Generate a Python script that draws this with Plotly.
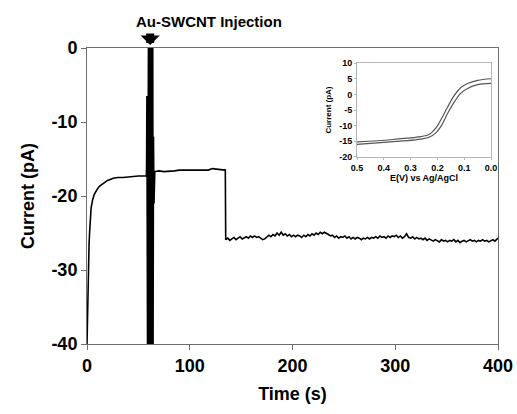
import plotly.graph_objects as go

# main trace: current vs time
time_rise = [0, 0.5, 1, 1.5, 2, 2.5, 3.2, 4, 5.5, 7, 9.4, 12, 16, 20, 25.6, 30, 35, 40, 45, 50, 56.5, 57.8]
current_rise = [-40, -35, -32, -30, -26.5, -25, -22.8, -21.6, -20.5, -19.8, -19.2, -18.7, -18.3, -17.9, -17.6,
                -17.5, -17.5, -17.4, -17.4, -17.3, -17.3, -17.3]

# injection artefact: signal saturating between the rails
time_inject = [58.0, 58.3, 58.9, 59.2, 59.5, 59.8, 60.1, 60.4, 60.7, 61.0, 61.3, 61.6, 61.9,
               62.2, 62.5, 62.8, 63.1, 63.4, 63.7, 64.0, 64.3, 64.7, 65.2]
current_inject = [-15.6, -6.5, -40, 0, -40, 0, -40, 0, -40, 0, -40, 0, -40,
                  0, -40, 0, -40, 0, -40, 0, -40, -12, -21]

time_mid = [66, 70, 75, 80.8, 85, 90, 97, 102, 108, 113, 118, 122, 126, 130, 134, 134.6]
current_mid = [-16.7, -16.6, -16.7, -16.7, -16.6, -16.5, -16.5, -16.6, -16.5, -16.6, -16.5, -16.3, -16.4, -16.5,
               -16.5, -16.4]

time_low = [135, 137, 139, 141, 143, 145, 147, 149, 151, 153, 155, 157, 159, 161, 163, 165, 167, 169, 171, 173,
            175, 177, 179, 181, 183, 185, 187, 189, 191, 193, 195, 197, 199, 201, 203, 205, 207, 209, 211, 213,
            215, 217, 219, 221, 223, 225, 227, 229, 231, 233, 235, 237, 239, 241, 243, 245, 247, 249, 251, 253,
            255, 257, 259, 261, 263, 265, 267, 269, 271, 273, 275, 277, 279, 281, 283, 285, 287, 289, 291, 293,
            295, 297, 299, 301, 303, 305, 307, 309, 311, 313, 315, 317, 319, 321, 323, 325, 327, 329, 331, 333,
            335, 337, 339, 341, 343, 345, 347, 349, 351, 353, 355, 357, 359, 361, 363, 365, 367, 369, 371, 373,
            375, 377, 379, 381, 383, 385, 387, 389, 391, 393, 395, 397, 399, 400]
current_low = [-25.9, -25.7, -26.0, -25.8, -25.6, -25.9, -25.7, -25.5, -25.8, -25.6, -25.5, -25.7, -25.4, -25.6,
               -25.4, -25.6, -25.5, -25.7, -25.9, -25.8, -25.6, -25.3, -25.5, -25.2, -25.4, -25.0, -25.3, -24.9,
               -25.3, -25.1, -25.4, -25.2, -25.5, -25.3, -25.5, -25.3, -25.4, -25.6, -25.3, -25.5, -25.2, -25.4,
               -25.1, -25.3, -25.0, -25.2, -24.9, -25.1, -24.9, -25.0, -25.2, -25.4, -25.3, -25.6, -25.4, -25.7,
               -25.5, -25.6, -25.4, -25.7, -25.5, -25.8, -25.6, -25.8, -25.6, -25.7, -25.9, -25.7, -25.8, -25.6,
               -25.8, -25.6, -25.7, -25.5, -25.7, -25.4, -25.6, -25.5, -25.7, -25.4, -25.6, -25.4, -25.5, -25.3,
               -25.6, -25.4, -25.7, -25.5, -25.1, -25.6, -25.7, -25.5, -25.8, -25.6, -25.8, -25.7, -25.9, -25.7,
               -26.0, -25.8, -25.9, -26.1, -25.9, -26.0, -26.2, -25.9, -26.1, -26.0, -26.2, -26.0, -26.1, -25.9,
               -26.2, -26.0, -26.3, -26.1, -26.0, -26.2, -26.1, -25.9, -26.1, -26.0, -26.2, -26.0, -26.1, -25.9,
               -26.1, -26.0, -26.2, -26.0, -25.9, -26.1, -25.9, -25.7]

# inset: cyclic voltammogram, two scans
potential = [0.5, 0.375, 0.3125, 0.2625, 0.231, 0.206, 0.1875, 0.1625, 0.1375, 0.1125, 0.0875, 0.05, 0.0]
cv_upper = [-15.2, -14.5, -14.0, -13.5, -12.8, -10.8, -8.2, -4.1, -0.4, 2.2, 3.5, 4.5, 5.0]
cv_lower = [-16.0, -15.2, -14.8, -14.3, -13.7, -12.3, -10.3, -6.2, -2.5, 0.4, 1.9, 3.1, 3.5]

# tick labels (plain hyphen minus, as in the original)
main_yticks = [0, -10, -20, -30, -40]
main_ytext = ["0", "-10", "-20", "-30", "-40"]
inset_yticks = [10, 5, 0, -5, -10, -15, -20]
inset_ytext = ["10", "5", "0", "-5", "-10", "-15", "-20"]

time_s = time_rise + time_inject + time_mid + time_low
current_pa = current_rise + current_inject + current_mid + current_low

FONT = "Liberation Sans, Arial, sans-serif"
AXIS_GREY = "#6e6e6e"
INSET_GREY = "#b5b5b5"

fig = go.Figure()
fig.add_trace(go.Scatter(x=time_s, y=current_pa, mode="lines",
                         line=dict(color="black", width=1.6), showlegend=False))
for scan in (cv_upper, cv_lower):
    fig.add_trace(go.Scatter(x=potential, y=scan, mode="lines", xaxis="x2", yaxis="y2",
                             line=dict(color="#555555", width=1.2, shape="spline"), showlegend=False))

main_axis = dict(showline=True, linecolor=AXIS_GREY, linewidth=1, mirror=True, showgrid=False,
                 zeroline=False, ticks="outside", ticklen=5, tickcolor=AXIS_GREY, automargin=False,
                 tickfont=dict(family=FONT, size=18, color="black", weight="bold"))
inset_axis = dict(showline=True, linecolor=INSET_GREY, mirror=True, showgrid=False, zeroline=False,
                  ticks="outside", ticklen=2, tickcolor=INSET_GREY, automargin=False,
                  tickfont=dict(family=FONT, size=9, color="black", weight="bold"))

fig.update_layout(
    width=517, height=414,
    margin=dict(l=87, r=19, t=48, b=70),
    paper_bgcolor="white", plot_bgcolor="white",
    xaxis=dict(main_axis, range=[0, 400], dtick=100,
               title=dict(text="Time (s)", standoff=12,
                          font=dict(family=FONT, size=18, color="black", weight="bold"))),
    yaxis=dict(main_axis, range=[-40, 0], tickvals=main_yticks, ticktext=main_ytext,
               title=dict(text="Current (pA)", standoff=12,
                          font=dict(family=FONT, size=18, color="black", weight="bold"))),
    xaxis2=dict(inset_axis, domain=[0.657, 0.983], anchor="y2", range=[0.5, 0], dtick=0.1,
                tickformat=".1f",
                title=dict(text="E(V) vs Ag/AgCl", standoff=2,
                           font=dict(family=FONT, size=9, color="black", weight="bold"))),
    yaxis2=dict(inset_axis, domain=[0.632, 0.949], anchor="x2", range=[-20, 10],
                tickvals=inset_yticks, ticktext=inset_ytext,
                title=dict(text="Current (pA)", standoff=6,
                           font=dict(family=FONT, size=8, color="black", weight="bold"))),
)

# injection marker: short fat arrow pointing at the top of the frame
fig.add_annotation(x=61.5, y=1.01, xref="x", yref="paper", ax=0, ay=-13,
                   showarrow=True, arrowhead=1, arrowsize=0.4, arrowwidth=8, arrowcolor="black",
                   text="")
fig.add_annotation(x=(209 - 87) / 411, y=1 + (48 - 22) / 296, xref="paper", yref="paper",
                   xanchor="center", yanchor="middle", text="Au-SWCNT Injection", showarrow=False,
                   font=dict(family=FONT, size=15, color="black", weight="bold"))

# the page's default body margin would shift the figure by 8 px
fig.write_html("out.html", config={"displayModeBar": False},
               post_script="document.body.style.margin = '0';")
